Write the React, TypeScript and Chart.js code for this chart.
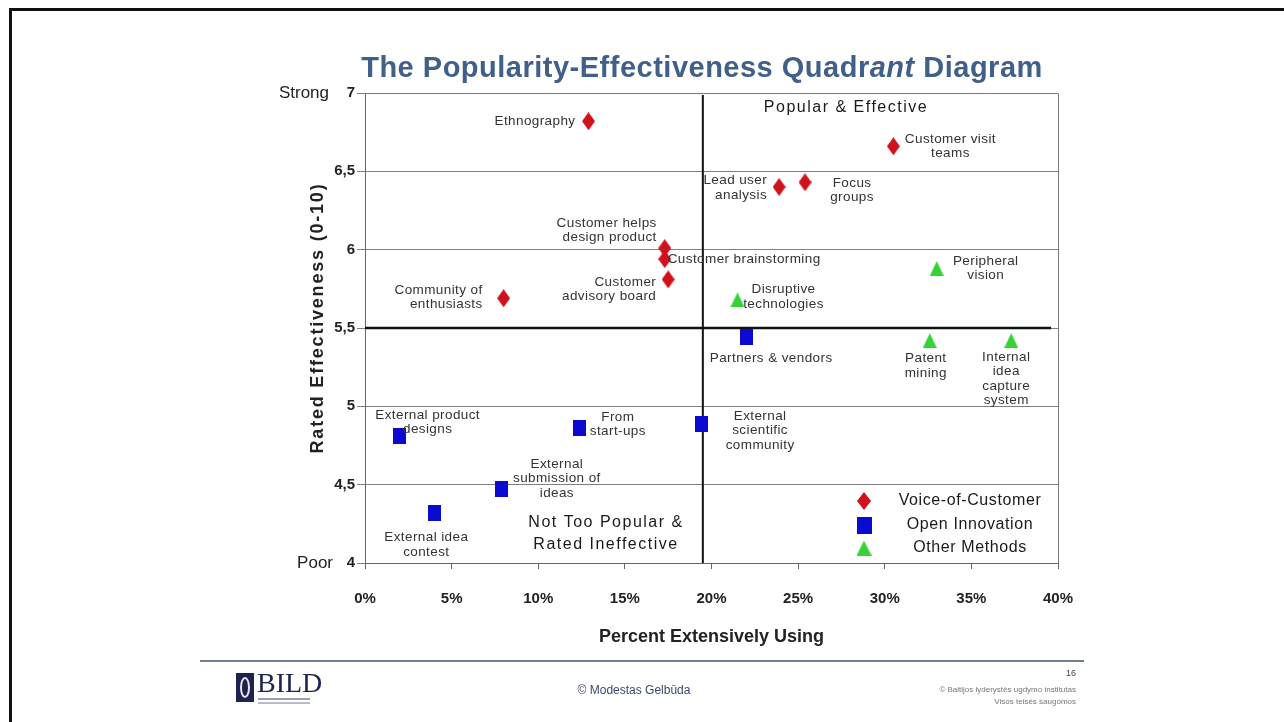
import React, { useEffect, useRef } from "react";
import { Chart, registerables } from "chart.js";

Chart.register(...registerables);

// ---------------- data ----------------
const seriesNames = ["Voice-of-Customer", "Open Innovation", "Other Methods"];

const vocNames = [
  "Ethnography",
  "Customer visit\nteams",
  "Lead user\nanalysis",
  "Focus\ngroups",
  "Customer helps\ndesign product",
  "Customer brainstorming",
  "Customer\nadvisory board",
  "Community of\nenthusiasts",
];
const vocX = [12.9, 30.5, 23.9, 25.4, 17.3, 17.3, 17.5, 8.0];
const vocY = [6.82, 6.66, 6.4, 6.43, 6.01, 5.94, 5.81, 5.69];

const oiNames = [
  "Partners & vendors",
  "External\nscientific\ncommunity",
  "External product\ndesigns",
  "From\nstart-ups",
  "External\nsubmission of\nideas",
  "External idea\ncontest",
];
const oiX = [22.0, 19.4, 2.0, 12.4, 7.9, 4.0];
const oiY = [5.44, 4.89, 4.81, 4.86, 4.47, 4.32];

const omNames = [
  "Peripheral\nvision",
  "Disruptive\ntechnologies",
  "Patent\nmining",
  "Internal\nidea\ncapture\nsystem",
];
const omX = [33.0, 21.5, 32.6, 37.3];
const omY = [5.88, 5.68, 5.42, 5.42];

const xMin = 0;
const xMax = 40;
const xStep = 5;
const yMin = 4;
const yMax = 7;
const yStep = 0.5;

const quadrantX = 19.5; // vertical divider (popularity)
const quadrantY = 5.5; // horizontal divider (effectiveness)
const quadrantYLineEnd = 39.6;

const titleText = ["The Popularity-Effectiveness Quadr", "ant", " Diagram"];
const xTitle = "Percent Extensively Using";
const yTitle = "Rated Effectiveness (0-10)";
const yTopWord = "Strong";
const yBottomWord = "Poor";
const quadTopRight = ["Popular & Effective"];
const quadBottomLeft = ["Not Too Popular &", "Rated Ineffective"];

// ---------------- label placement (annotation layout) ----------------
type Place = [number, number, CanvasTextAlign];
const vocPlace: Place[] = [
  [-13, 0, "right"],
  [57, 0, "center"],
  [-12, 1, "right"],
  [47, 8, "center"],
  [-8, -18, "right"],
  [3, 0, "left"],
  [-12, 10, "right"],
  [-21, -1, "right"],
];
const oiPlace: Place[] = [
  [25, 21, "center"],
  [59, 7, "center"],
  [28, -14, "center"],
  [38, -4, "center"],
  [55, -11, "center"],
  [-8, 32, "center"],
];
const omPlace: Place[] = [
  [49, 0, "center"],
  [46, -3, "center"],
  [-4, 25, "center"],
  [-5, 38, "center"],
];

// ---------------- styles ----------------
const RED = "#d0121c";
const BLUE = "#0a0ad0";
const GREEN = "#36d236";
const SANS = '"Liberation Sans", Arial, sans-serif';

function makeMarker(shape: string, w: number, h: number, color: string) {
  const c = document.createElement("canvas");
  c.width = w;
  c.height = h;
  const g = c.getContext("2d")!;
  g.fillStyle = color;
  g.beginPath();
  if (shape === "diamond") {
    g.moveTo(w / 2, 0);
    g.lineTo(w, h / 2);
    g.lineTo(w / 2, h);
    g.lineTo(0, h / 2);
  } else if (shape === "square") {
    g.rect(0, 0, w, h);
  } else {
    g.moveTo(w / 2, 0);
    g.lineTo(w, h);
    g.lineTo(0, h);
  }
  g.closePath();
  g.fill();
  return c;
}

export default function App() {
  const ref = useRef<HTMLCanvasElement | null>(null);

  useEffect(() => {
    if (!ref.current) return;
    const diamond = makeMarker("diamond", 13, 18, RED);
    const square = makeMarker("square", 13, 16, BLUE);
    const triangle = makeMarker("triangle", 14, 15, GREEN);
    const markers = [diamond, square, triangle];
    const names = [vocNames, oiNames, omNames];
    const places = [vocPlace, oiPlace, omPlace];

    const pts = (xs: number[], ys: number[]) => xs.map((x, i) => ({ x, y: ys[i] }));

    const decor = {
      id: "decor",
      beforeDatasetsDraw(chart: any) {
        const { ctx, chartArea: a, scales } = chart;
        ctx.save();
        // plot frame (top/right)
        ctx.strokeStyle = "#7a7a7a";
        ctx.lineWidth = 1;
        ctx.beginPath();
        ctx.moveTo(a.left, a.top + 0.5);
        ctx.lineTo(a.right + 0.5, a.top + 0.5);
        ctx.lineTo(a.right + 0.5, a.bottom);
        ctx.stroke();
        // quadrant dividers
        const vx = scales.x.getPixelForValue(quadrantX);
        const hy = scales.y.getPixelForValue(quadrantY);
        ctx.strokeStyle = "#111";
        ctx.lineWidth = 2.5;
        ctx.beginPath();
        ctx.moveTo(a.left, hy);
        ctx.lineTo(scales.x.getPixelForValue(quadrantYLineEnd), hy);
        ctx.stroke();
        ctx.lineWidth = 2;
        ctx.beginPath();
        ctx.moveTo(vx, scales.y.getPixelForValue(yMax) + 2);
        ctx.lineTo(vx, a.bottom);
        ctx.stroke();
        ctx.restore();
      },
      afterDatasetsDraw(chart: any) {
        const { ctx } = chart;
        ctx.save();
        ctx.fillStyle = "#333";
        ctx.font = `13.5px ${SANS}`;
        (ctx as any).letterSpacing = "0.4px";
        ctx.textBaseline = "middle";
        chart.data.datasets.forEach((ds: any, di: number) => {
          const meta = chart.getDatasetMeta(di);
          meta.data.forEach((el: any, i: number) => {
            const lines = names[di][i].split("\n");
            const [dx, dy, align] = places[di][i];
            ctx.textAlign = align;
            const lh = 14.5;
            const y0 = el.y + dy - ((lines.length - 1) * lh) / 2;
            lines.forEach((ln: string, k: number) => ctx.fillText(ln, el.x + dx, y0 + k * lh));
          });
        });
        ctx.restore();
      },
      afterDraw(chart: any) {
        const { ctx, chartArea: a, scales } = chart;
        ctx.save();
        // quadrant captions
        ctx.fillStyle = "#1a1a1a";
        ctx.font = `16px ${SANS}`;
        (ctx as any).letterSpacing = "1.5px";
        ctx.textAlign = "center";
        ctx.textBaseline = "middle";
        ctx.fillText(quadTopRight[0], 846, a.top + 15);
        quadBottomLeft.forEach((t, k) => ctx.fillText(t, 606, 523 + k * 22));
        // legend
        ctx.font = `16px ${SANS}`;
        (ctx as any).letterSpacing = "0.6px";
        const lx = 864;
        const ly = [501, 525, 548];
        const lm = [
          makeMarker("diamond", 14, 18, RED),
          makeMarker("square", 15, 17, BLUE),
          makeMarker("triangle", 15, 15, GREEN),
        ];
        seriesNames.forEach((n, k) => {
          ctx.drawImage(lm[k], lx - lm[k].width / 2, ly[k] - lm[k].height / 2);
          ctx.fillText(n, 970, ly[k]);
        });
        // Strong / Poor
        (ctx as any).letterSpacing = "0px";
        ctx.font = `17px ${SANS}`;
        ctx.fillStyle = "#222";
        ctx.textAlign = "right";
        ctx.fillText(yTopWord, 329, scales.y.getPixelForValue(yMax));
        ctx.fillText(yBottomWord, 333, scales.y.getPixelForValue(yMin));
        // y axis title
        ctx.translate(318, (a.top + a.bottom) / 2 - 10);
        ctx.rotate(-Math.PI / 2);
        ctx.font = `bold 18px ${SANS}`;
        (ctx as any).letterSpacing = "1.8px";
        ctx.textAlign = "center";
        ctx.fillText(yTitle, 0, 0);
        ctx.restore();
      },
    };

    const chart = new Chart(ref.current, {
      type: "scatter",
      data: {
        datasets: [
          { label: seriesNames[0], data: pts(vocX, vocY), pointStyle: markers[0] as any },
          { label: seriesNames[1], data: pts(oiX, oiY), pointStyle: markers[1] as any },
          { label: seriesNames[2], data: pts(omX, omY), pointStyle: markers[2] as any },
        ],
      },
      options: {
        animation: false,
        responsive: false,
        events: [],
        layout: { padding: { left: 0, top: 93, right: 226, bottom: 70 } },
        plugins: {
          legend: { display: false },
          tooltip: { enabled: false },
          title: { display: false },
        },
        scales: {
          x: {
            type: "linear",
            min: xMin,
            max: xMax,
            ticks: {
              stepSize: xStep,
              callback: (v: any) => `${v}%`,
              font: { family: SANS, size: 15, weight: "bold" },
              color: "#222",
              padding: 21,
              maxRotation: 0,
            },
            grid: { drawOnChartArea: false, drawTicks: true, tickLength: 6, color: "#666" },
            border: { display: true, color: "#666" },
            title: {
              display: true,
              text: xTitle,
              font: { family: SANS, size: 18, weight: "bold" },
              color: "#222",
            },
            afterFit: (s: any) => {
              s.height = 89;
            },
          },
          y: {
            type: "linear",
            min: yMin,
            max: yMax,
            ticks: {
              stepSize: yStep,
              callback: (v: any) => String(v).replace(".", ","),
              font: { family: SANS, size: 15, weight: "bold" },
              color: "#222",
              padding: 2,
            },
            grid: { color: "#808080", drawTicks: true, tickLength: 8 },
            border: { display: true, color: "#666" },
            afterFit: (s: any) => {
              s.width = 365;
            },
          },
        },
      },
      plugins: [decor],
    });
    return () => chart.destroy();
  }, []);

  return (
    <div style={{ position: "fixed", left: 0, top: 0, width: 1284, height: 722, background: "#fff", overflow: "hidden" }}>
      <div
        style={{
          position: "absolute",
          left: 9,
          top: 8,
          width: 1300,
          height: 730,
          borderTop: "3px solid #111",
          borderLeft: "3px solid #111",
          boxSizing: "border-box",
        }}
      />
      <canvas ref={ref} width={1284} height={722} style={{ position: "absolute", left: 0, top: 0, width: 1284, height: 722 }} />
      <div
        style={{
          position: "absolute",
          left: 300,
          top: 51,
          width: 804,
          textAlign: "center",
          font: `bold 29px ${SANS}`,
          letterSpacing: "0.5px",
          color: "#40608a",
          whiteSpace: "nowrap",
        }}
      >
        {titleText[0]}
        <i>{titleText[1]}</i>
        {titleText[2]}
      </div>
      {/* footer */}
      <div style={{ position: "absolute", left: 200, top: 660, width: 884, height: 2, background: "#6f7f96" }} />
      <div style={{ position: "absolute", left: 236, top: 673, width: 18, height: 29, background: "#1c2350" }}>
        <div style={{ position: "absolute", left: 4, top: 4, width: 10, height: 21, borderRadius: "50%", border: "2px solid #e8e8f0", boxSizing: "border-box" }} />
      </div>
      <div style={{ position: "absolute", left: 257, top: 668, font: '28px "Liberation Serif", serif', color: "#1c2350", lineHeight: "30px" }}>BILD</div>
      <div style={{ position: "absolute", left: 258, top: 698, width: 52, height: 2, background: "#9aa0b4" }} />
      <div style={{ position: "absolute", left: 258, top: 702, width: 52, height: 2, background: "#b8bccb" }} />
      <div style={{ position: "absolute", left: 534, top: 683, width: 200, textAlign: "center", font: `12px ${SANS}`, color: "#3a4a6a" }}>© Modestas Gelbūda</div>
      <div style={{ position: "absolute", left: 876, top: 668, width: 200, textAlign: "right", font: `9px ${SANS}`, color: "#444" }}>16</div>
      <div style={{ position: "absolute", left: 776, top: 684, width: 300, textAlign: "right", font: `8px ${SANS}`, color: "#777", lineHeight: "12px" }}>
        © Baltijos lyderystės ugdymo institutas
        <br />
        Visos teisės saugomos
      </div>
    </div>
  );
}
